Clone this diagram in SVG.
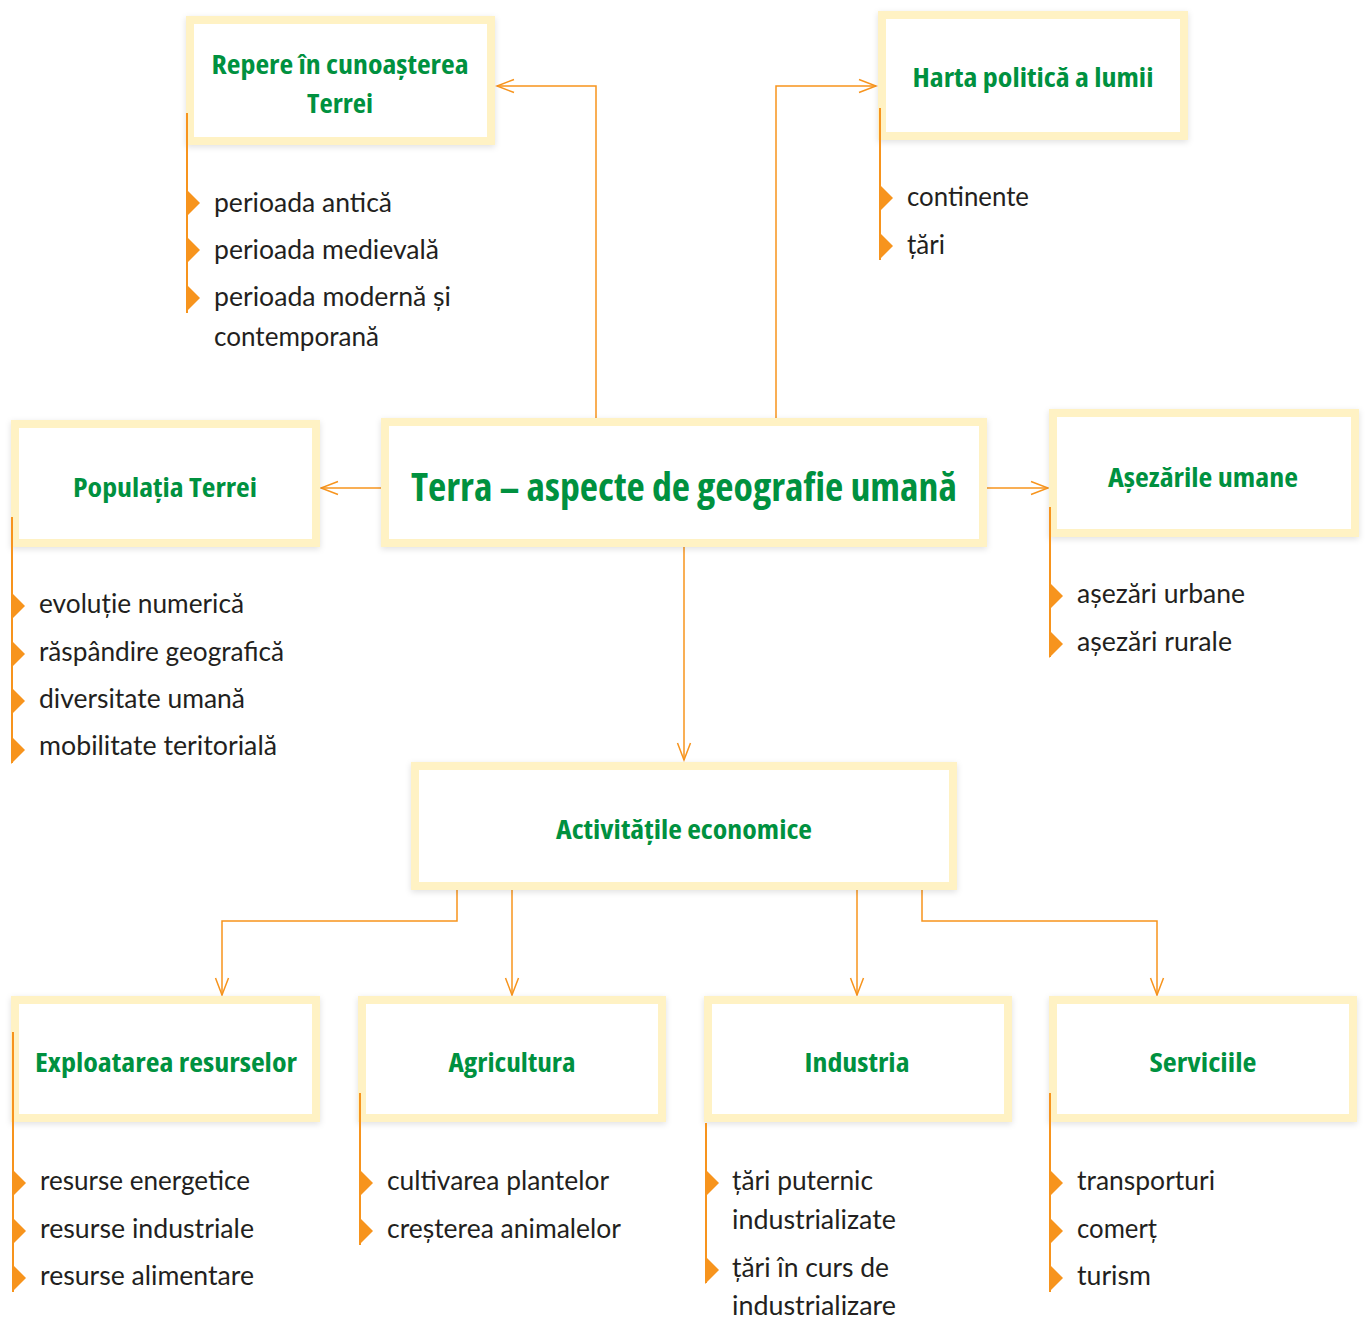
<svg xmlns="http://www.w3.org/2000/svg" width="1365" height="1319" viewBox="0 0 1365 1319">
<style>
.box{fill:#fff;stroke:#FFF2C4;stroke-width:8;filter:url(#sh)}
.h{font-family:"Open Sans","Lato",sans-serif;font-weight:700;font-stretch:75%;fill:#00913F;text-anchor:middle;font-size:27px}
.big{font-size:39px}
.t{font-family:"Lato","Noto Sans",sans-serif;font-size:26px;fill:#231F20}
.c{fill:none;stroke:#F7941D;stroke-width:1.5}
.vl{stroke:#F7941D;stroke-width:2}
.b{fill:#F7941D}
</style>
<defs>
<filter id="sh" x="-10%" y="-15%" width="120%" height="135%"><feDropShadow dx="0" dy="2" stdDeviation="3" flood-color="#000" flood-opacity="0.12"/></filter>
<marker id="arr" markerWidth="20" markerHeight="16" refX="18" refY="8" orient="auto" markerUnits="userSpaceOnUse" viewBox="0 0 20 16"><path d="M1,1.5 L18,8 L1,14.5" fill="none" stroke="#F7941D" stroke-width="1.5"/></marker>
</defs>
<g id="connectors">
<path class="c" d="M596,418 V86 H497" marker-end="url(#arr)"/>
<path class="c" d="M776,418 V86 H876" marker-end="url(#arr)"/>
<path class="c" d="M381,488 H321" marker-end="url(#arr)"/>
<path class="c" d="M987,488 H1048" marker-end="url(#arr)"/>
<path class="c" d="M684,547 V760" marker-end="url(#arr)"/>
<path class="c" d="M457,890 V921 H222 V995" marker-end="url(#arr)"/>
<path class="c" d="M512,890 V995" marker-end="url(#arr)"/>
<path class="c" d="M857,890 V995" marker-end="url(#arr)"/>
<path class="c" d="M922,890 V921 H1157 V995" marker-end="url(#arr)"/>
</g>
<g id="repere">
<rect class="box" x="190" y="20" width="301" height="121"/>
<text class="h" x="340" y="74" textLength="257" lengthAdjust="spacingAndGlyphs">Repere în cunoașterea</text>
<text class="h" x="340" y="113" textLength="66" lengthAdjust="spacingAndGlyphs">Terrei</text>
<line class="vl" x1="187" y1="113" x2="187" y2="313"/>
<polygon class="b" points="186,189 200,203 186,217"/>
<polygon class="b" points="186,236 200,250 186,264"/>
<polygon class="b" points="186,284 200,298 186,312"/>
<text class="t" x="214" y="212" textLength="178" lengthAdjust="spacingAndGlyphs">perioada antică</text>
<text class="t" x="214" y="259" textLength="225" lengthAdjust="spacingAndGlyphs">perioada medievală</text>
<text class="t" x="214" y="306" textLength="237" lengthAdjust="spacingAndGlyphs">perioada modernă și</text>
<text class="t" x="214" y="346" textLength="165" lengthAdjust="spacingAndGlyphs">contemporană</text>
</g>
<g id="harta">
<rect class="box" x="882" y="15" width="302" height="121"/>
<text class="h" x="1033" y="87" textLength="241" lengthAdjust="spacingAndGlyphs">Harta politică a lumii</text>
<line class="vl" x1="880" y1="108" x2="880" y2="260"/>
<polygon class="b" points="879,184 893,198 879,212"/>
<polygon class="b" points="879,232 893,246 879,260"/>
<text class="t" x="907" y="206" textLength="122" lengthAdjust="spacingAndGlyphs">continente</text>
<text class="t" x="907" y="254" textLength="38" lengthAdjust="spacingAndGlyphs">țări</text>
</g>
<g id="populatia">
<rect class="box" x="15" y="424" width="301" height="119"/>
<text class="h" x="165" y="497" textLength="184" lengthAdjust="spacingAndGlyphs">Populația Terrei</text>
<line class="vl" x1="12" y1="517" x2="12" y2="763"/>
<polygon class="b" points="11,592 25,606 11,620"/>
<polygon class="b" points="11,640 25,654 11,668"/>
<polygon class="b" points="11,687 25,701 11,715"/>
<polygon class="b" points="11,736 25,750 11,764"/>
<text class="t" x="39" y="613" textLength="205" lengthAdjust="spacingAndGlyphs">evoluție numerică</text>
<text class="t" x="39" y="661" textLength="245" lengthAdjust="spacingAndGlyphs">răspândire geografică</text>
<text class="t" x="39" y="708" textLength="206" lengthAdjust="spacingAndGlyphs">diversitate umană</text>
<text class="t" x="39" y="755" textLength="238" lengthAdjust="spacingAndGlyphs">mobilitate teritorială</text>
</g>
<g id="terra">
<rect class="box" x="385" y="422" width="598" height="121"/>
<text class="h big" x="684" y="501" textLength="546" lengthAdjust="spacingAndGlyphs">Terra – aspecte de geografie umană</text>
</g>
<g id="asezarile">
<rect class="box" x="1053" y="413" width="302" height="120"/>
<text class="h" x="1203" y="487" textLength="190" lengthAdjust="spacingAndGlyphs">Așezările umane</text>
<line class="vl" x1="1050" y1="507" x2="1050" y2="657"/>
<polygon class="b" points="1049,582 1063,596 1049,610"/>
<polygon class="b" points="1049,630 1063,644 1049,658"/>
<text class="t" x="1077" y="603" textLength="168" lengthAdjust="spacingAndGlyphs">așezări urbane</text>
<text class="t" x="1077" y="651" textLength="155" lengthAdjust="spacingAndGlyphs">așezări rurale</text>
</g>
<g id="activitatile">
<rect class="box" x="415" y="766" width="538" height="120"/>
<text class="h" x="684" y="839" textLength="256" lengthAdjust="spacingAndGlyphs">Activitățile economice</text>
</g>
<g id="exploatarea">
<rect class="box" x="15" y="1000" width="301" height="118"/>
<text class="h" x="166" y="1072" textLength="262" lengthAdjust="spacingAndGlyphs">Exploatarea resurselor</text>
<line class="vl" x1="13" y1="1032" x2="13" y2="1292"/>
<polygon class="b" points="12,1169 26,1183 12,1197"/>
<polygon class="b" points="12,1217 26,1231 12,1245"/>
<polygon class="b" points="12,1264 26,1278 12,1292"/>
<text class="t" x="40" y="1190" textLength="210" lengthAdjust="spacingAndGlyphs">resurse energetice</text>
<text class="t" x="40" y="1238" textLength="214" lengthAdjust="spacingAndGlyphs">resurse industriale</text>
<text class="t" x="40" y="1285" textLength="214" lengthAdjust="spacingAndGlyphs">resurse alimentare</text>
</g>
<g id="agricultura">
<rect class="box" x="362" y="1000" width="300" height="118"/>
<text class="h" x="512" y="1072" textLength="127" lengthAdjust="spacingAndGlyphs">Agricultura</text>
<line class="vl" x1="360" y1="1093" x2="360" y2="1245"/>
<polygon class="b" points="359,1169 373,1183 359,1197"/>
<polygon class="b" points="359,1217 373,1231 359,1245"/>
<text class="t" x="387" y="1190" textLength="222" lengthAdjust="spacingAndGlyphs">cultivarea plantelor</text>
<text class="t" x="387" y="1238" textLength="234" lengthAdjust="spacingAndGlyphs">creșterea animalelor</text>
</g>
<g id="industria">
<rect class="box" x="708" y="1000" width="300" height="118"/>
<text class="h" x="857" y="1072" textLength="105" lengthAdjust="spacingAndGlyphs">Industria</text>
<line class="vl" x1="706" y1="1123" x2="706" y2="1283"/>
<polygon class="b" points="705,1169 719,1183 705,1197"/>
<polygon class="b" points="705,1256 719,1270 705,1284"/>
<text class="t" x="732" y="1190" textLength="141" lengthAdjust="spacingAndGlyphs">țări puternic</text>
<text class="t" x="732" y="1229" textLength="164" lengthAdjust="spacingAndGlyphs">industrializate</text>
<text class="t" x="732" y="1277" textLength="157" lengthAdjust="spacingAndGlyphs">țări în curs de</text>
<text class="t" x="732" y="1315" textLength="164" lengthAdjust="spacingAndGlyphs">industrializare</text>
</g>
<g id="serviciile">
<rect class="box" x="1053" y="1000" width="300" height="118"/>
<text class="h" x="1203" y="1072" textLength="107" lengthAdjust="spacingAndGlyphs">Serviciile</text>
<line class="vl" x1="1050" y1="1093" x2="1050" y2="1292"/>
<polygon class="b" points="1049,1169 1063,1183 1049,1197"/>
<polygon class="b" points="1049,1217 1063,1231 1049,1245"/>
<polygon class="b" points="1049,1264 1063,1278 1049,1292"/>
<text class="t" x="1077" y="1190" textLength="138" lengthAdjust="spacingAndGlyphs">transporturi</text>
<text class="t" x="1077" y="1238" textLength="80" lengthAdjust="spacingAndGlyphs">comerț</text>
<text class="t" x="1077" y="1285" textLength="74" lengthAdjust="spacingAndGlyphs">turism</text>
</g>
</svg>
